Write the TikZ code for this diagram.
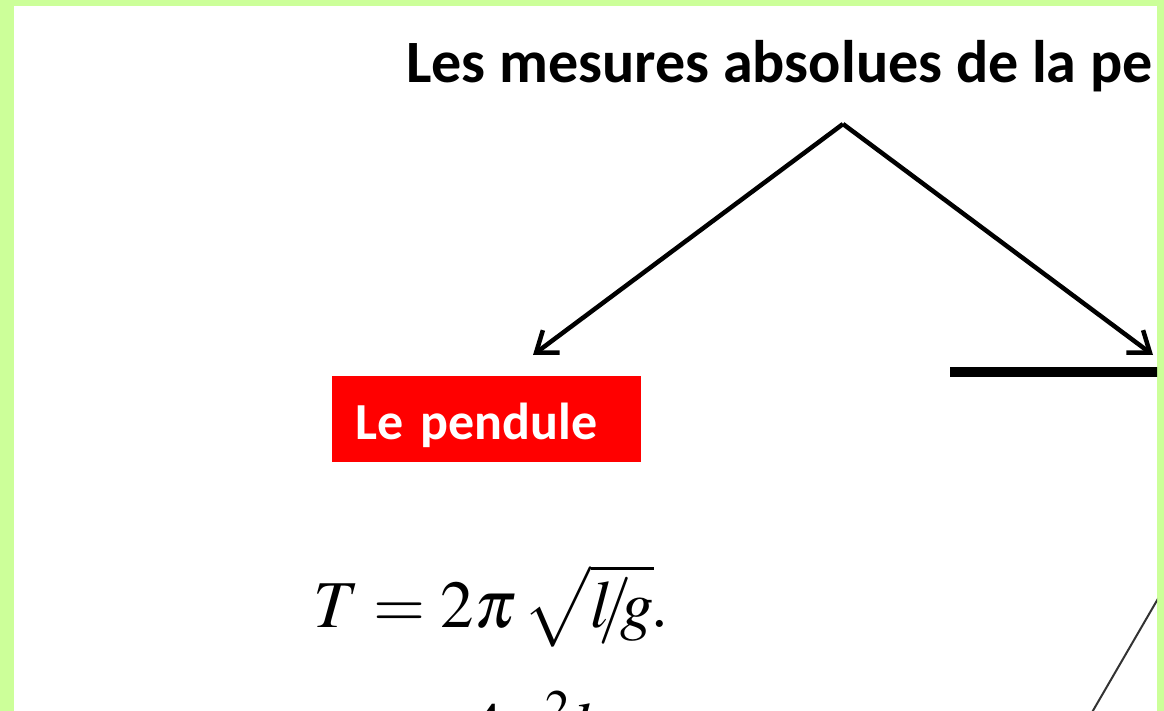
\documentclass[tikz,border=0pt]{standalone}
\usepackage{mathptmx}
\usepackage{fontspec}
\newfontfamily\titlefont{Carlito}
\usepackage{tikz}
\usetikzlibrary{arrows.meta,positioning}
\definecolor{cadre}{RGB}{204,255,153}
\definecolor{rouge}{RGB}{255,0,0}

\begin{document}
\begin{tikzpicture}[x=1pt,y=-1pt,
		fleche/.style={line width=4.5pt,-{Straight Barb[length=19pt,width=28pt]}},
		titre/.style={font=\titlefont\bfseries\fontsize{60.1}{64}\selectfont,inner sep=0pt},
		boiterouge/.style={fill=rouge,text=white,font=\titlefont\bfseries\fontsize{52}{56}\selectfont,
			inner xsep=23pt,inner ysep=10pt,text width=263pt,text height=53pt,text depth=13pt,align=left},
		formule/.style={font=\fontsize{67}{76}\selectfont,inner sep=0pt}]
	\useasboundingbox (0,0) rectangle (1164,711);
	\fill[cadre] (0,0) rectangle (1164,711);
	\fill[white] (14,6) rectangle (1157,711);
	\begin{scope}
		\clip (14,6) rectangle (1157,711);
		\node[titre,anchor=base west] (titre) at (406,83) {Les mesures absolues de la pe};
		\coordinate (sommet) at (843,124);
		\coordinate (gauche) at (533,355);
		\coordinate (droite) at (1153,355);
		\draw[fleche] (sommet)--(gauche);
		\draw[fleche] (sommet)--(droite);
		\node[boiterouge,anchor=north west] (pendule) at (332,376) {Le pendule};
		\coordinate (barreA) at (950,372);
		\coordinate (barreB) at (1170,372);
		\draw[line width=10pt] (barreA)--(barreB);
		\node[formule,anchor=base west] (periode) at (313,627) {$T = 2\pi\,\sqrt{l\mkern-4mu/\mkern-3mu g}\mkern-1mu.$};
		\node[formule,anchor=base west] (numerateur) at (470,749) {$4\pi^2 l$};
		\coordinate (filA) at (1170,578);
		\coordinate (filB) at (1080,733);
		\draw[line width=2pt,black!80] (filA)--(filB);
	\end{scope}
\end{tikzpicture}
\end{document}
